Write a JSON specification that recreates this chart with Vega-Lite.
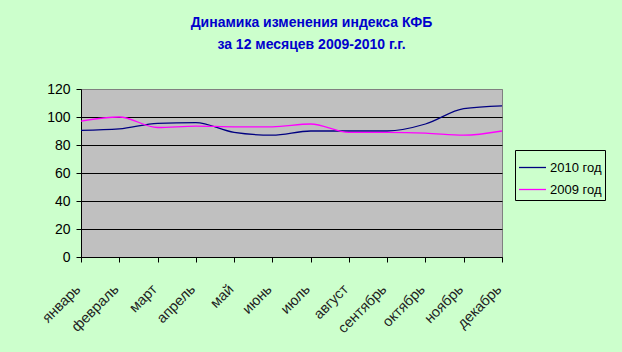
{
  "$schema": "https://vega.github.io/schema/vega-lite/v6.json",
  "width": 421,
  "height": 168,
  "autosize": "none",
  "padding": {"left": 81, "top": 89, "right": 120, "bottom": 95},
  "background": "#ccffcc",
  "title": {
    "text": ["Динамика изменения индекса КФБ", "за 12 месяцев 2009-2010 г.г."],
    "font": "Liberation Sans",
    "fontSize": 14,
    "fontWeight": "bold",
    "color": "#0000cc",
    "anchor": "middle",
    "dx": 20,
    "offset": 30,
    "lineHeight": 22
  },
  "data": {
    "values": [
      {"month": "январь", "series": "2010 год", "value": 90.5},
      {"month": "февраль", "series": "2010 год", "value": 91.5},
      {"month": "март", "series": "2010 год", "value": 95.5},
      {"month": "апрель", "series": "2010 год", "value": 96},
      {"month": "май", "series": "2010 год", "value": 89},
      {"month": "июнь", "series": "2010 год", "value": 87},
      {"month": "июль", "series": "2010 год", "value": 90},
      {"month": "август", "series": "2010 год", "value": 90},
      {"month": "сентябрь", "series": "2010 год", "value": 90},
      {"month": "октябрь", "series": "2010 год", "value": 95},
      {"month": "ноябрь", "series": "2010 год", "value": 106},
      {"month": "декабрь", "series": "2010 год", "value": 108},
      {"month": "январь", "series": "2009 год", "value": 97},
      {"month": "февраль", "series": "2009 год", "value": 100},
      {"month": "март", "series": "2009 год", "value": 92.5},
      {"month": "апрель", "series": "2009 год", "value": 93.5},
      {"month": "май", "series": "2009 год", "value": 93},
      {"month": "июнь", "series": "2009 год", "value": 93},
      {"month": "июль", "series": "2009 год", "value": 95},
      {"month": "август", "series": "2009 год", "value": 89},
      {"month": "сентябрь", "series": "2009 год", "value": 89},
      {"month": "октябрь", "series": "2009 год", "value": 88.5},
      {"month": "ноябрь", "series": "2009 год", "value": 87},
      {"month": "декабрь", "series": "2009 год", "value": 90}
    ]
  },
  "mark": {"type": "line", "interpolate": "monotone", "strokeWidth": 1.3},
  "encoding": {
    "x": {
      "field": "month",
      "type": "ordinal",
      "sort": ["январь", "февраль", "март", "апрель", "май", "июнь", "июль", "август", "сентябрь", "октябрь", "ноябрь", "декабрь"],
      "scale": {"type": "point", "padding": 0},
      "axis": {
        "title": null,
        "labelAngle": -45,
        "labelFont": "Liberation Sans",
        "labelFontSize": 14.5,
        "labelColor": "#222222",
        "labelPadding": 20,
        "labelOffset": -8,
        "tickSize": 5,
        "tickColor": "#000000",
        "domainColor": "#000000",
        "grid": false
      }
    },
    "y": {
      "field": "value",
      "type": "quantitative",
      "scale": {"domain": [0, 120]},
      "axis": {
        "title": null,
        "values": [0, 20, 40, 60, 80, 100, 120],
        "labelFont": "Liberation Sans",
        "labelFontSize": 14,
        "labelColor": "#000000",
        "labelPadding": 6,
        "tickSize": 5,
        "tickColor": "#000000",
        "domainColor": "#000000",
        "gridColor": {"condition": {"test": "datum.value === 120", "value": "#808080"}, "value": "#000000"},
        "gridOpacity": 1
      }
    },
    "color": {
      "field": "series",
      "type": "nominal",
      "scale": {"domain": ["2010 год", "2009 год"], "range": ["#000080", "#ff00ff"]},
      "legend": {
        "title": null,
        "orient": "none",
        "legendX": 434,
        "legendY": 61,
        "strokeColor": "#000000",
        "fillColor": "#ccffcc",
        "padding": 3,
        "symbolType": "stroke",
        "symbolSize": 729,
        "symbolStrokeWidth": 1.3,
        "rowPadding": -6,
        "labelFont": "Liberation Sans",
        "labelFontSize": 13,
        "labelColor": "#000000",
        "labelOffset": 3
      }
    }
  },
  "config": {"view": {"fill": "#c0c0c0", "stroke": "#808080"}}
}
